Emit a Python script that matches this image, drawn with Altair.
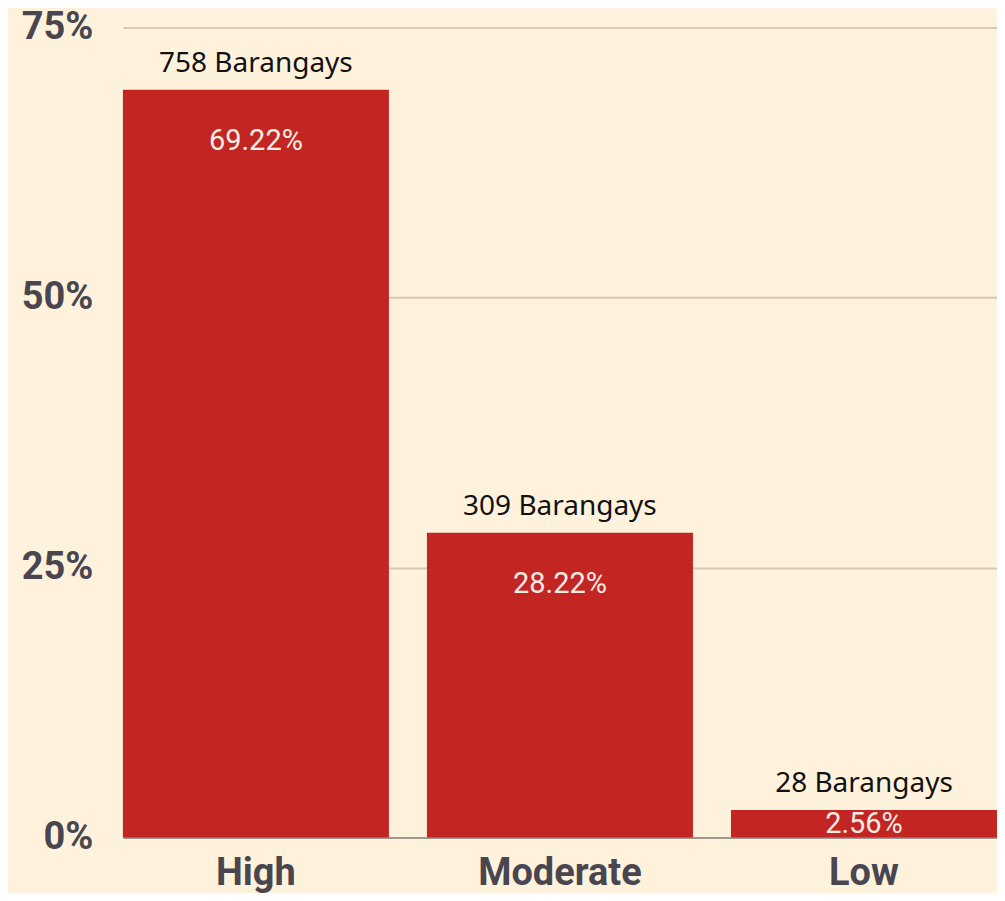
import altair as alt
import pandas as pd

categories = ["High", "Moderate", "Low"]
percent = [69.22, 28.22, 2.56]
barangays = [758, 309, 28]
y_ticks = [0, 25, 50, 75]

df = pd.DataFrame({
    "risk": categories,
    "pct": percent,
    "count": barangays,
})
df["count_label"] = df["count"].astype(str) + " Barangays"
df["pct_label"] = df["pct"].map(lambda v: f"{v:.2f}%")

BG = "#fff2dc"
RED = "#c32523"
LABEL = "#4a4650"

x_enc = alt.X(
    "risk:N",
    sort=categories,
    scale=alt.Scale(paddingInner=0.125, paddingOuter=0),
    axis=alt.Axis(
        title=None,
        labelAngle=0,
        labelFont="Roboto",
        labelFontWeight="bold",
        labelFontSize=38,
        labelColor=LABEL,
        labelPadding=17,
        ticks=False,
        domain=True,
        domainColor="#8f8a85",
        domainWidth=1.5,
        grid=False,
        zindex=0,
    ),
)
y_enc = alt.Y(
    "pct:Q",
    scale=alt.Scale(domain=[0, 75], nice=False),
    axis=alt.Axis(
        title=None,
        values=y_ticks,
        labelExpr="datum.value + '%'",
        labelFont="Roboto",
        labelFontWeight="bold",
        labelFontSize=38,
        labelColor=LABEL,
        labelPadding=30,
        ticks=False,
        domain=False,
        grid=True,
        gridColor="#d6c8b6",
        gridWidth=2,
        zindex=0,
    ),
)

base = alt.Chart(df)

bars = base.mark_bar(color=RED).encode(x=x_enc, y=y_enc)

top_labels = base.mark_text(
    font="Noto Sans", fontSize=28, color="#111111",
    baseline="alphabetic", dy=-18,
).encode(x=alt.X("risk:N", sort=categories), y="pct:Q", text="count_label:N")

inside_tall = base.transform_filter("datum.pct >= 10").mark_text(
    font="Roboto", fontSize=29, color="#f7ece4",
    baseline="alphabetic", dy=60,
).encode(x=alt.X("risk:N", sort=categories), y="pct:Q", text="pct_label:N")

inside_short = base.transform_filter("datum.pct < 10").transform_calculate(
    mid="datum.pct / 2"
).mark_text(
    font="Roboto", fontSize=29, color="#f7ece4", baseline="middle",
).encode(x=alt.X("risk:N", sort=categories), y="mid:Q", text="pct_label:N")

chart = (
    alt.layer(bars, top_labels, inside_tall, inside_short)
    .properties(
        width=875,
        height=811,
        background=BG,
        autosize=alt.AutoSizeParams(type="none"),
        padding={"left": 115, "top": 19, "right": 0, "bottom": 55},
    )
    .configure_view(strokeWidth=0)
)

chart.save("out.html", embed_options={"renderer": "svg", "actions": False})
